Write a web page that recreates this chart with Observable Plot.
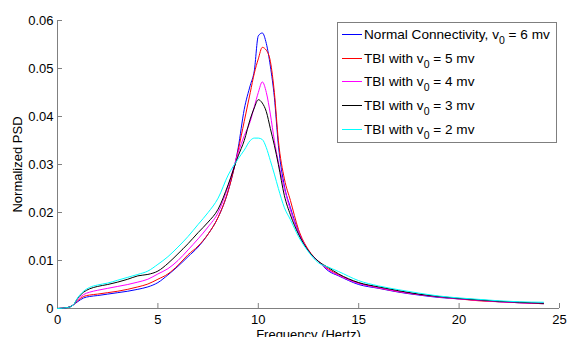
<!DOCTYPE html>
<html>
<head>
<meta charset="utf-8">
<script src="https://cdn.jsdelivr.net/npm/d3@7"></script>
<script src="https://cdn.jsdelivr.net/npm/@observablehq/plot@0.6"></script>
<style>
  body { margin: 0; background: #fff; }
  #wrap { position: relative; width: 567px; height: 337px; overflow: hidden; font-family: "Liberation Sans", Arial, sans-serif; }
  #legend { position: absolute; left: 337px; top: 22px; width: 218px; height: 119px; border: 1px solid #7f7f7f; background: #fff; box-sizing: content-box; }
  .row { height: 23.6px; display: flex; align-items: center; font-size: 13.6px; color: #000; white-space: nowrap; }
  .row svg { margin-left: 4px; margin-right: 2px; flex: none; }
  .row sub { font-size: 10.5px; vertical-align: -5px; line-height: 0; }
</style>
</head>
<body>
<div id="wrap"></div>
<script>
// ---- data ----
const freq = [0, 0.5, 0.8, 1.0, 1.3, 1.6, 2.0, 2.5, 3.0, 3.5, 4.0, 4.5, 5.0, 5.5, 6.0, 6.5, 7.0, 7.5, 8.0, 8.5, 9.0, 9.3, 9.6, 9.8, 10.0, 10.2, 10.4, 10.6, 10.8, 11.0, 11.3, 11.6, 12.0, 12.5, 13.0, 13.5, 14.0, 15.0, 16.0, 17.0, 18.0, 19.0, 20.0, 21.0, 22.0, 23.0, 24.2];

const normalV6 = [0, 0.0002, 0.0008, 0.0014, 0.0022, 0.0025, 0.0027, 0.0030, 0.0033, 0.0036, 0.0040, 0.0045, 0.0054, 0.0070, 0.0088, 0.0108, 0.0128, 0.0155, 0.0190, 0.0245, 0.0335, 0.0415, 0.0465, 0.0495, 0.0568, 0.0574, 0.0552, 0.0505, 0.0440, 0.0340, 0.0255, 0.0210, 0.0160, 0.0120, 0.0098, 0.0078, 0.0068, 0.0050, 0.0042, 0.0034, 0.0028, 0.0023, 0.0020, 0.0017, 0.0014, 0.0012, 0.0010];

const tbiV5 = [0, 0.0002, 0.0008, 0.0016, 0.0025, 0.0028, 0.0030, 0.0033, 0.0036, 0.0040, 0.0045, 0.0051, 0.0061, 0.0072, 0.0090, 0.0112, 0.0130, 0.0155, 0.0190, 0.0245, 0.0330, 0.0390, 0.0450, 0.0490, 0.0520, 0.0544, 0.0538, 0.0515, 0.0450, 0.0350, 0.0270, 0.0225, 0.0165, 0.0122, 0.0098, 0.0082, 0.0070, 0.0053, 0.0043, 0.0035, 0.0029, 0.0024, 0.0020, 0.0016, 0.0014, 0.0012, 0.0010];

const tbiV4 = [0, 0.0002, 0.0008, 0.0018, 0.0029, 0.0034, 0.0038, 0.0042, 0.0046, 0.0050, 0.0055, 0.0061, 0.0072, 0.0083, 0.0100, 0.0122, 0.0145, 0.0170, 0.0200, 0.0255, 0.0325, 0.0360, 0.0390, 0.0420, 0.0450, 0.0472, 0.0450, 0.0405, 0.0350, 0.0305, 0.0250, 0.0205, 0.0158, 0.0120, 0.0098, 0.0080, 0.0069, 0.0052, 0.0043, 0.0035, 0.0029, 0.0024, 0.0020, 0.0017, 0.0014, 0.0012, 0.0011];

const tbiV3 = [0, 0.0002, 0.0008, 0.0021, 0.0034, 0.0041, 0.0046, 0.0050, 0.0055, 0.0061, 0.0068, 0.0071, 0.0078, 0.0094, 0.0114, 0.0135, 0.0158, 0.0180, 0.0207, 0.0258, 0.0318, 0.0350, 0.0395, 0.0418, 0.0435, 0.0428, 0.0410, 0.0375, 0.0340, 0.0300, 0.0235, 0.0195, 0.0155, 0.0120, 0.0098, 0.0085, 0.0072, 0.0054, 0.0045, 0.0037, 0.0030, 0.0025, 0.0021, 0.0018, 0.0015, 0.0013, 0.0011];

const tbiV2 = [0, 0.0002, 0.0008, 0.0022, 0.0036, 0.0044, 0.0049, 0.0053, 0.0059, 0.0065, 0.0071, 0.0078, 0.0092, 0.0108, 0.0128, 0.0150, 0.0175, 0.0200, 0.0230, 0.0278, 0.0312, 0.0330, 0.0350, 0.0355, 0.0355, 0.0352, 0.0335, 0.0308, 0.0280, 0.0250, 0.0210, 0.0185, 0.0150, 0.0118, 0.0095, 0.0086, 0.0077, 0.0058, 0.0047, 0.0039, 0.0032, 0.0026, 0.0022, 0.0019, 0.0016, 0.0014, 0.0013];

const legendPrefixes = ["Normal Connectivity, v", "TBI with v", "TBI with v", "TBI with v", "TBI with v"];
const v0Values = [6, 5, 4, 3, 2];
const seriesColors = ["#0000ff", "#ff0000", "#ff00ff", "#000000", "#00ffff"];
const seriesValues = [normalV6, tbiV5, tbiV4, tbiV3, tbiV2];

const xTicks = [0, 5, 10, 15, 20, 25];
const yTicks = [0, 0.01, 0.02, 0.03, 0.04, 0.05, 0.06];
const xLabel = "Frequency (Hertz)";
const yLabel = "Normalized PSD";

// ---- build ----
const series = seriesValues.map((vals, i) => ({
  color: seriesColors[i],
  points: freq.map((f, j) => ({f, v: vals[j]}))
}));

const axisGray = "#808080";

const chart = Plot.plot({
  width: 567,
  height: 337,
  marginLeft: 57,
  marginRight: 8,
  marginTop: 20,
  marginBottom: 29,
  style: {fontFamily: "'Liberation Sans', Arial, sans-serif", fontSize: "13px", color: "#000", background: "#fff", overflow: "visible"},
  x: {domain: [0, 25]},
  y: {domain: [0, 0.06]},
  marks: [
    Plot.ruleX([0], {stroke: axisGray}),
    Plot.ruleY([0], {stroke: axisGray}),
    Plot.axisX({ticks: xTicks, tickSize: -5, tickPadding: 11, stroke: axisGray, fill: "#000", tickFormat: d => String(d),
      label: xLabel, labelArrow: "none", labelAnchor: "center", labelOffset: 30}),
    Plot.axisY({ticks: yTicks, tickSize: -5, tickPadding: 9, stroke: axisGray, fill: "#000",
      tickFormat: d => d === 0 ? "0" : d.toFixed(2),
      label: yLabel, labelArrow: "none", labelAnchor: "center", labelOffset: 45}),
    ...series.map(s => Plot.line(s.points, {x: "f", y: "v", stroke: s.color, strokeWidth: 1, curve: "monotone-x"}))
  ]
});

const wrap = document.getElementById("wrap");
wrap.appendChild(chart);

// legend inside the axes, top right
const legend = document.createElement("div");
legend.id = "legend";
legendPrefixes.forEach((p, i) => {
  const row = document.createElement("div");
  row.className = "row";
  row.innerHTML = `<svg width="20" height="3"><line x1="0" x2="20" y1="1.5" y2="1.5" stroke="${seriesColors[i]}" stroke-width="1"/></svg><span>${p}<sub>0</sub> = ${v0Values[i]} mv</span>`;
  legend.appendChild(row);
});
wrap.appendChild(legend);
</script>
</body>
</html>
